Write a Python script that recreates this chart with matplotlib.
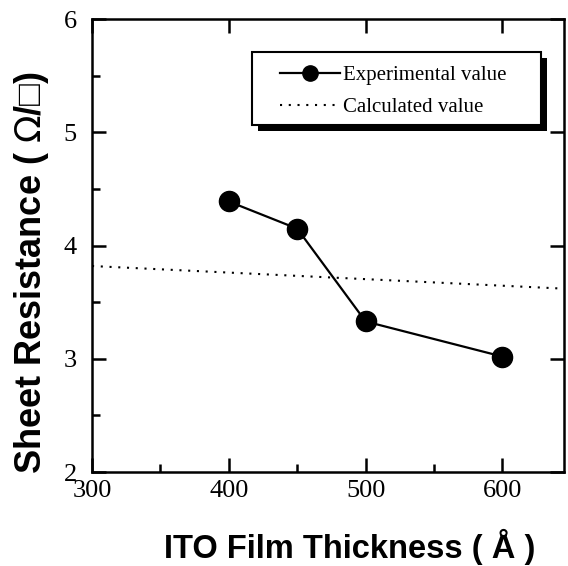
import matplotlib.pyplot as plt
from matplotlib.patches import Rectangle
from matplotlib.ticker import MultipleLocator

# measured sheet resistance
thickness = [400, 450, 500, 600]
resistance = [4.39, 4.15, 3.33, 3.02]

# calculated curve (straight line across the axis)
calc_thickness = [300, 645]
calc_resistance = [3.82, 3.62]

serif = 'Liberation Serif'
sans = ['Liberation Sans', 'DejaVu Sans']

fig = plt.figure(figsize=(5.68, 5.66), dpi=100)
ax = fig.add_axes([0.162, 0.166, 0.831, 0.800])

ax.plot(thickness, resistance, color='black', lw=1.6, marker='o', ms=14.5,
        label='Experimental value')
ax.plot(calc_thickness, calc_resistance, color='black', lw=1.5,
        linestyle=(0, (1, 3.2)), label='Calculated value')

ax.set_xlim(300, 645)
ax.set_ylim(2, 6)
ax.xaxis.set_major_locator(MultipleLocator(100))
ax.xaxis.set_minor_locator(MultipleLocator(50))
ax.yaxis.set_major_locator(MultipleLocator(1))
ax.yaxis.set_minor_locator(MultipleLocator(0.5))

ax.tick_params(which='both', direction='in', width=1.8, top=True, right=True,
               labelsize=19)
ax.tick_params(axis='y', pad=11)
ax.tick_params(axis='x', pad=6)
ax.tick_params(which='major', length=10)
ax.tick_params(which='minor', length=6, top=False, right=False)
for lab in ax.get_xticklabels() + ax.get_yticklabels():
    lab.set_family(serif)
for s in ax.spines.values():
    s.set_linewidth(1.8)

ax.set_xlabel('ITO Film Thickness ( Å )', family=sans, fontsize=23.5,
              fontweight='bold')
ax.set_ylabel('Sheet Resistance ( $\\mathit{\\Omega}$/□)', family=sans,
              fontsize=26, fontweight='bold')
ax.xaxis.set_label_coords(0.545, -0.125, transform=ax.transAxes)
ax.yaxis.set_label_coords(-0.087, 0.44, transform=ax.transAxes)

leg = ax.legend(loc='upper left', bbox_to_anchor=(0.398, 0.898),
                borderaxespad=0, borderpad=0, frameon=False,
                prop={'family': serif, 'size': 15},
                handlelength=2.9, handletextpad=0.15, labelspacing=0.6)
leg.legend_handles[0].set_markersize(11)
leg.set_zorder(6)

# boxed frame with a heavy drop shadow, drawn by hand
fig.canvas.draw()
bb = leg.get_window_extent()
x0, y0 = bb.x0 - 28, bb.y0 - 8
w, h = bb.width + 28 + 34, bb.height + 8 + 13
ax.add_artist(Rectangle((x0 + 6, y0 - 6), w, h, transform=None,
                        facecolor='black', zorder=4, clip_on=False))
ax.add_artist(Rectangle((x0, y0), w, h, transform=None, facecolor='white',
                        edgecolor='black', lw=1.5, zorder=5, clip_on=False))

fig.savefig('out.png', dpi=100)
